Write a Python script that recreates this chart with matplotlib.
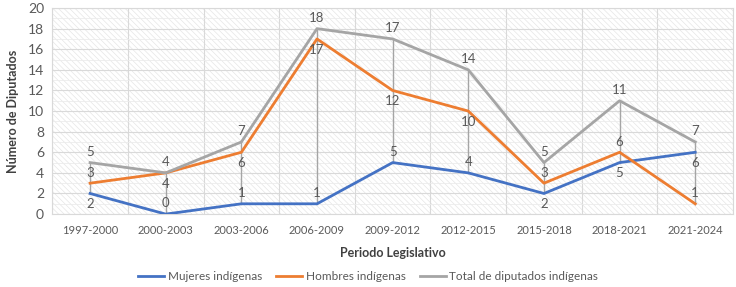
import matplotlib
matplotlib.use("Agg")
import matplotlib.pyplot as plt
from matplotlib.ticker import MultipleLocator

# Datos del grafico
periodos = ["1997-2000", "2000-2003", "2003-2006", "2006-2009", "2009-2012",
            "2012-2015", "2015-2018", "2018-2021", "2021-2024"]
mujeres = [2, 0, 1, 1, 5, 4, 2, 5, 6]
hombres = [3, 4, 6, 17, 12, 10, 3, 6, 1]
total = [5, 4, 7, 18, 17, 14, 5, 11, 7]

# posicion de las etiquetas (1 = arriba, -1 = abajo)
pos_mujeres = [-1, 1, 1, 1, 1, 1, -1, -1, -1]
pos_hombres = [1, -1, -1, -1, -1, -1, 1, 1, 1]
pos_total = [1] * 9

plt.rcParams['font.family'] = ['Lato', 'DejaVu Sans']
plt.rcParams['hatch.color'] = '#e6e6e6'
plt.rcParams['hatch.linewidth'] = 0.5

fig = plt.figure(figsize=(7.36, 2.87), dpi=100)
ax = fig.add_axes([0.071, 0.254, 0.925, 0.718])
ax.patch.set_facecolor('white')
ax.patch.set_hatch('\\\\\\\\\\\\')
ax.patch.set_edgecolor('#e6e6e6')

x = list(range(len(periodos)))

# lineas max-min (gris)
for i in x:
    vals = [mujeres[i], hombres[i], total[i]]
    ax.plot([i, i], [min(vals), max(vals)], color='#a5a5a5', lw=1.0, zorder=2)

series = [(mujeres, '#4472C4', 'Mujeres indígenas', pos_mujeres),
          (hombres, '#ED7D31', 'Hombres indígenas', pos_hombres),
          (total, '#A5A5A5', 'Total de diputados indígenas', pos_total)]
lineas = []
for vals, col, nombre, pos in series:
    l, = ax.plot(x, vals, color=col, lw=2.0, label=nombre, zorder=3)
    lineas.append(l)
    for i, v in enumerate(vals):
        off = 0.45 if pos[i] > 0 else -0.45
        ax.text(i, v + off, str(v), ha='center',
                va='bottom' if pos[i] > 0 else 'top',
                fontsize=9.5, color='#595959', zorder=4)

ax.set_xlim(-0.5, len(periodos) - 0.5)
ax.set_ylim(0, 20)
ax.yaxis.set_major_locator(MultipleLocator(2))
ax.yaxis.set_minor_locator(MultipleLocator(1))
ax.set_xticks(x)
ax.set_xticklabels(periodos)
ax.set_xticks([i - 0.5 for i in range(len(periodos) + 1)], minor=True)
ax.grid(True, which='major', axis='y', color='#d9d9d9', lw=0.8)
ax.grid(True, which='minor', axis='y', color='#ececec', lw=0.6)
ax.grid(True, which='minor', axis='x', color='#d9d9d9', lw=0.8)
ax.set_axisbelow(True)
ax.tick_params(axis='both', which='both', length=0, colors='#595959')
ax.tick_params(axis='x', labelsize=8, pad=8)
ax.tick_params(axis='y', labelsize=10, pad=6)
for s in ax.spines.values():
    s.set_color('#d9d9d9')
    s.set_linewidth(0.8)

ax.set_xlabel('Periodo Legislativo', fontsize=9, fontweight='bold',
              color='#404040', labelpad=8)
ax.set_ylabel('Número de Diputados', fontsize=9, fontweight='bold',
              color='#404040', labelpad=6)

fig.legend(handles=lineas, loc='center', bbox_to_anchor=(0.5, 0.035), ncol=3,
           frameon=False, fontsize=8.5, handlelength=2.2, handletextpad=0.3,
           columnspacing=1.2, labelcolor='#595959', borderpad=0.1)

fig.savefig('out.png', dpi=100)
